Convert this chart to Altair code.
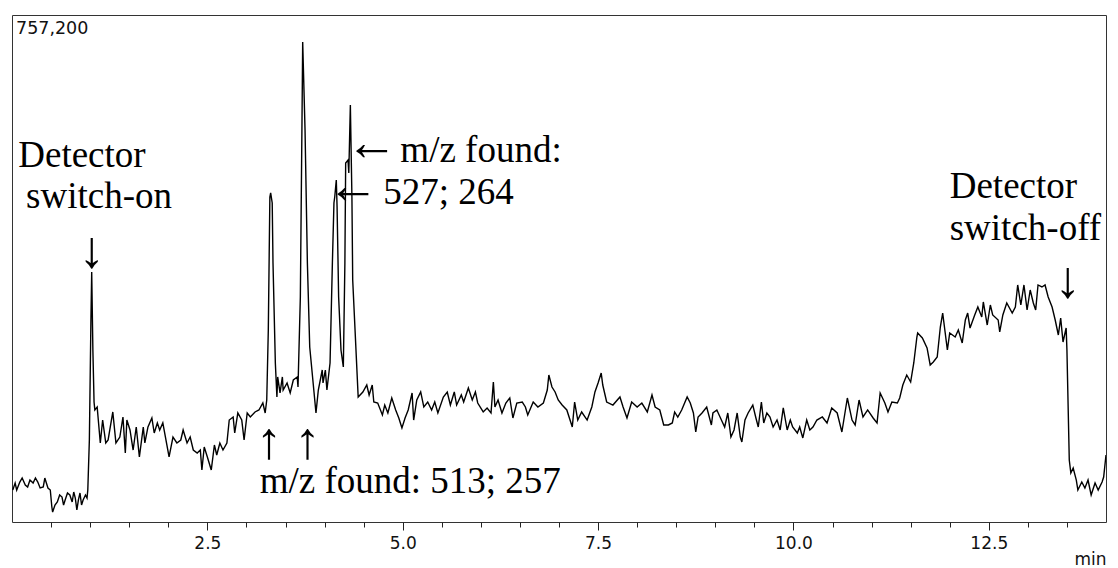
import altair as alt
import pandas as pd

# Total ion chromatogram: retention time (min) and detector response (counts)
TIME_MIN = [
    0.01, 0.04, 0.06, 0.10, 0.13, 0.17, 0.20, 0.23, 0.27, 0.30, 0.33, 0.36, 0.40, 0.42, 0.46, 0.49,
    0.51, 0.52, 0.55, 0.58, 0.61, 0.64, 0.66, 0.68, 0.71, 0.74, 0.77, 0.79, 0.81, 0.83, 0.85, 0.87,
    0.89, 0.91, 0.94, 0.96, 0.97,
    0.99, 1.01, 1.02, 1.035, 1.05, 1.06, 1.09, 1.13, 1.16, 1.20, 1.23, 1.29, 1.33, 1.38, 1.42, 1.45,
    1.47, 1.51, 1.55, 1.59, 1.63, 1.68, 1.70, 1.74, 1.79, 1.82, 1.86, 1.89, 1.93, 1.97, 2.01, 2.06,
    2.11, 2.16, 2.19, 2.24, 2.28, 2.32, 2.37, 2.41, 2.43, 2.46, 2.50, 2.55, 2.59, 2.62, 2.66, 2.70,
    2.75, 2.78, 2.83, 2.85, 2.89, 2.94, 2.97, 3.01, 3.05, 3.11, 3.16, 3.21, 3.24, 3.26,
    3.28, 3.30, 3.31, 3.33, 3.34, 3.37, 3.39, 3.40, 3.43, 3.46, 3.47, 3.52, 3.56, 3.60, 3.65, 3.66,
    3.69, 3.71, 3.72, 3.75, 3.78, 3.81, 3.85, 3.89, 3.92, 3.97, 3.98, 4.01, 4.03, 4.07, 4.10, 4.12,
    4.13, 4.15, 4.16, 4.18, 4.21, 4.24, 4.26, 4.27, 4.30, 4.31, 4.33, 4.35, 4.36, 4.39, 4.43,
    4.49, 4.54, 4.57, 4.61, 4.63, 4.68, 4.74, 4.77, 4.81, 4.86, 4.91, 4.95, 4.99, 5.03, 5.07, 5.12,
    5.14, 5.18, 5.23, 5.27, 5.32, 5.37, 5.41, 5.45, 5.52, 5.57, 5.61, 5.66, 5.69, 5.75, 5.78, 5.84,
    5.89, 5.93, 5.96, 6.03, 6.08, 6.13, 6.16, 6.18, 6.22, 6.27, 6.32, 6.37, 6.41, 6.46, 6.53, 6.57,
    6.60, 6.67, 6.73, 6.80, 6.85, 6.87, 6.91, 6.95, 6.99, 7.04, 7.10, 7.17, 7.20, 7.24, 7.29, 7.36,
    7.42, 7.46, 7.50, 7.54, 7.56, 7.61, 7.69, 7.78, 7.82, 7.87, 7.93, 8.00, 8.06, 8.13, 8.19, 8.23,
    8.29,
    8.34, 8.40, 8.45, 8.48, 8.52, 8.57, 8.64, 8.68, 8.72, 8.75, 8.78, 8.83, 8.89, 8.95, 8.97, 9.02,
    9.09, 9.12, 9.16, 9.20, 9.24, 9.28, 9.32, 9.34, 9.38, 9.42, 9.48, 9.52, 9.55, 9.59, 9.62, 9.66,
    9.70, 9.74, 9.79, 9.83, 9.87, 9.92, 9.96, 9.99, 10.05, 10.08, 10.12, 10.17, 10.21, 10.25, 10.30,
    10.37, 10.43, 10.49, 10.56, 10.62, 10.69, 10.75, 10.79, 10.84, 10.89, 10.95, 11.02, 11.07, 11.11,
    11.17, 11.21, 11.26, 11.33, 11.36, 11.40, 11.45, 11.50, 11.54, 11.58,
    11.59, 11.65, 11.71, 11.75, 11.79, 11.84, 11.88, 11.91, 11.97, 12.00, 12.07, 12.11, 12.16, 12.20,
    12.23, 12.26, 12.32, 12.36, 12.41, 12.43, 12.48, 12.52, 12.55, 12.62, 12.64, 12.68, 12.73, 12.80,
    12.84, 12.87, 12.91, 12.95, 12.99, 13.03, 13.07, 13.10, 13.13, 13.18, 13.22, 13.26, 13.31, 13.35,
    13.39, 13.42, 13.45, 13.49, 13.50, 13.53, 13.55, 13.58, 13.62, 13.64, 13.69, 13.73, 13.77, 13.81,
    13.86, 13.90, 13.95, 13.97, 14.00,
]

INTENSITY = [
    47800, 58200, 47800, 59700, 65700, 55300, 52300, 62700, 58200, 65700, 59700, 50800, 52300, 65700, 50800, 47800,
    22400, 14900, 25400, 29900, 40300, 37300, 25400, 32900, 43300, 40300, 29900, 44800, 35800, 17900, 32900, 43300,
    25400, 32900, 40300, 35800, 47800,
    122500, 301700, 373400, 256900, 179200, 167300, 171800, 118000, 152300, 118000, 122500, 164300, 118000, 126900, 156800, 103100,
    152300, 137400, 107500, 141900, 97100, 141900, 118000, 141900, 155300, 132900, 147900, 137400, 147900, 122500, 97100, 126900,
    118000, 122500, 137400, 118000, 126900, 107500, 103100, 107500, 77700, 112000, 97100, 77700, 115000, 100100, 118000, 107500,
    118000, 152300, 156800, 132900, 162800, 152300, 122500, 162800, 156800, 164300, 167300, 177700, 162800, 182200,
    286800, 485400, 491400, 476400, 386800, 237500, 186700, 216600, 192700, 216600, 197100, 207600, 192700, 212100, 216600, 201600,
    336000, 585500, 716900, 585500, 386800, 261400, 212100, 162800, 197100, 227000, 207600, 227000, 197100, 237500, 386800, 476400,
    485400, 510800, 470500, 336000, 256900, 231500, 386800, 536200, 540600, 521200, 622800, 485400, 361400, 286800, 186700,
    194200, 204600, 189700, 204600, 179200, 177700, 159800, 174700, 162800, 185200, 167300, 155300, 140400, 155300, 167300, 192700,
    152300, 182200, 194200, 171800, 179200, 167300, 179200, 162800, 186700, 194200, 174700, 194200, 174700, 189700, 179200, 200100,
    182200, 194200, 177700, 164300, 170300, 162800, 209100, 171800, 182200, 162800, 177700, 185200, 155300, 177700, 179200, 171800,
    159800, 179200, 171800, 177700, 197100, 219500, 201600, 194200, 182200, 174700, 167300, 141900, 179200, 152300, 164300, 152300,
    171800, 194200, 207600, 222500, 204600, 179200, 174700, 186700, 171800, 155300, 179200, 171800, 177700, 164300, 189700, 171800,
    167300,
    144900, 144900, 147900, 164300, 156800, 167300, 186700, 177700, 162800, 134400, 156800, 162800, 171800, 144900, 162800, 167300,
    149400, 141900, 162800, 126900, 137400, 162800, 126900, 119500, 152300, 162800, 174700, 155300, 141900, 179200, 147900, 162800,
    156800, 141900, 152300, 137400, 170300, 137400, 152300, 141900, 132900, 141900, 125500, 152300, 137400, 141900, 152300,
    156800, 147900, 170300, 162800, 134400, 185200, 152300, 144900, 182200, 156800, 167300, 155300, 147900, 192700,
    177700, 164300, 179200, 177700, 185200, 204600, 219500, 209100, 237500, 276300,
    282300, 274800, 259900, 234500, 239000, 246400, 291200, 312100, 256900, 282300, 276300, 286800, 267300, 301700,
    312100, 289700, 309200, 321100, 306200, 328600, 294200, 324100, 309200, 301700, 283800, 309200, 327100, 312100,
    321100, 354000, 324100, 354000, 316600, 346500, 327100, 316600, 354000, 351000, 354000, 336000, 321100, 301700,
    279300, 304700, 268800, 289700, 256900, 92600, 73200, 80600, 62700, 47800, 59700, 50800, 62700, 40300,
    58200, 47800, 59700, 67200, 100100,
]

assert len(TIME_MIN) == len(INTENSITY)

FULL_SCALE = 757200
TIME_RANGE = [0, 14]
TICK_VALUES = [i * 0.5 for i in range(1, 28)]

# Annotation texts anchored in data units (left edge time, response level at the baseline)
NOTE_TEXT = ["Detector", "switch-on", "m/z found:", "527; 264",
             "m/z found: 513; 257", "Detector", "switch-off"]
NOTE_TIME = [0.08, 0.18, 4.97, 4.75, 3.17, 12.00, 12.00]
NOTE_LEVEL = [530200, 469000, 537700, 474900, 43300, 483900, 421200]

# Pointer arrows (centre time, response level at the glyph baseline)
ARROW_TEXT = ["\u2193", "\u2191", "\u2191", "\u2190", "\u2190", "\u2193"]
ARROW_TIME = [1.02, 3.29, 3.78, 4.60, 4.36, 13.51]
ARROW_LEVEL = [381000, 95600, 95600, 540600, 476400, 336000]

trace = pd.DataFrame({"time": TIME_MIN, "intensity": INTENSITY})
notes = pd.DataFrame({"text": NOTE_TEXT, "time": NOTE_TIME, "level": NOTE_LEVEL})
arrows = pd.DataFrame({"text": ARROW_TEXT, "time": ARROW_TIME, "level": ARROW_LEVEL})
full_scale = pd.DataFrame({"text": [f"{FULL_SCALE:,}"], "time": [0], "level": [FULL_SCALE]})

x_scale = alt.Scale(domain=TIME_RANGE, nice=False, zero=False)
y_scale = alt.Scale(domain=[0, FULL_SCALE], nice=False, zero=True)

x_axis = alt.Axis(
    values=TICK_VALUES,
    labelExpr="datum.value % 2.5 === 0 ? format(datum.value, '.1f') : ''",
    labelOverlap=False,
    labelFlush=False,
    tickSize={"condition": {"test": "datum.value % 2.5 === 0", "value": 8}, "value": 5},
    tickColor="#222",
    tickWidth=1,
    domain=False,
    grid=False,
    labelFont="DejaVu Sans",
    labelFontSize=17,
    labelColor="#111",
    labelPadding=5,
    title="min",
    titleFont="DejaVu Sans",
    titleFontSize=17,
    titleFontWeight="normal",
    titleColor="#111",
    titleAnchor="end",
    titleAlign="right",
    titleBaseline="alphabetic",
    titleX=1094,
    titleY=42,
)

line = alt.Chart(trace).mark_line(color="black", strokeWidth=1.4, clip=True).encode(
    x=alt.X("time:Q", scale=x_scale, axis=x_axis),
    y=alt.Y("intensity:Q", scale=y_scale, axis=None),
)

serif = "Liberation Serif"

note_layer = alt.Chart(notes).mark_text(
    font=serif, fontSize=37, align="left", baseline="alphabetic", color="black"
).encode(
    x=alt.X("time:Q", scale=x_scale),
    y=alt.Y("level:Q", scale=y_scale),
    text="text:N",
)

arrow_layer = alt.Chart(arrows).mark_text(
    font=serif, fontSize=52, align="center", baseline="alphabetic", color="black"
).encode(
    x=alt.X("time:Q", scale=x_scale),
    y=alt.Y("level:Q", scale=y_scale),
    text="text:N",
)

scale_label = alt.Chart(full_scale).mark_text(
    font="DejaVu Sans", fontSize=17.5, align="left", baseline="top", dx=4, dy=5, color="#111"
).encode(
    x=alt.X("time:Q", scale=x_scale),
    y=alt.Y("level:Q", scale=y_scale),
    text="text:N",
)

chart = (
    alt.layer(line, note_layer, arrow_layer, scale_label)
    .properties(
        width=1094,
        height=507,
        autosize=alt.AutoSizeParams(type="none"),
        padding={"left": 12, "top": 15, "right": 12, "bottom": 46},
        background="white",
    )
    .configure_view(stroke="#333", strokeWidth=1)
)

chart.save("out.html", embed_options={"renderer": "svg", "actions": False})
